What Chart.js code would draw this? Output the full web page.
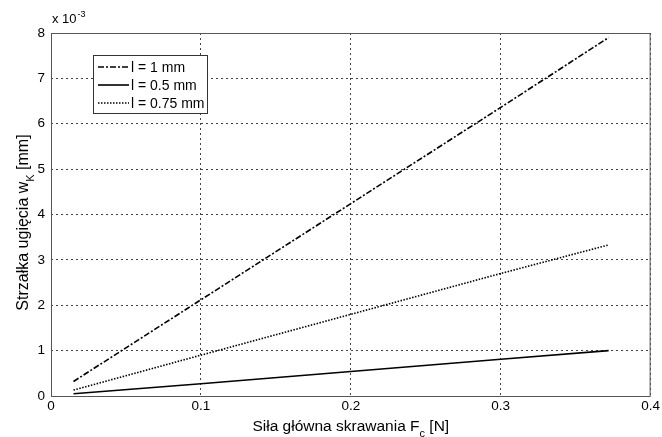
<!DOCTYPE html>
<html>
<head>
<meta charset="utf-8">
<script src="https://cdn.jsdelivr.net/npm/chart.js@4"></script>
<style>
  html, body { margin: 0; padding: 0; background: #fff; }
  #wrap { width: 662px; height: 437px; position: relative; }
</style>
</head>
<body>
<div id="wrap"><canvas id="chart"></canvas></div>
<script>
// force F_c [N] and deflection w_K [x 10^-3 mm]
const forceN   = [0.015, 0.1, 0.2, 0.3, 0.372];
const w1mm     = [0.32, 2.12, 4.24, 6.36, 7.90];
const w05mm    = [0.05, 0.27, 0.54, 0.81, 1.00];
const w075mm   = [0.13, 0.90, 1.80, 2.70, 3.33];
const seriesLabels = ['l = 1 mm', 'l = 0.5 mm', 'l = 0.75 mm'];
const xTicks = [0, 0.1, 0.2, 0.3, 0.4];
const yTicks = [0, 1, 2, 3, 4, 5, 6, 7, 8];

const FONT = '"Liberation Sans", Arial, sans-serif';
const pts = ys => forceN.map((x, i) => ({ x, y: ys[i] }));

// draws text made of normal / sub parts, centred on x
function richText(ctx, parts, x, y, size) {
  const fontOf = p => (p.small ? Math.round(size * 0.7) : size) + 'px ' + FONT;
  const widths = parts.map(p => { ctx.font = fontOf(p); return ctx.measureText(p.t).width; });
  let cx = x - widths.reduce((s, w) => s + w, 0) / 2;
  parts.forEach((p, i) => {
    ctx.font = fontOf(p);
    ctx.fillText(p.t, cx, y + (p.sub ? 6 : 0));
    cx += widths[i];
  });
}

const decor = {
  id: 'decor',
  afterDraw(chart) {
    const { ctx, chartArea: a } = chart;
    ctx.save();
    // box round the plot
    ctx.strokeStyle = '#555';
    ctx.lineWidth = 1;
    ctx.setLineDash([]);
    ctx.strokeRect(a.left + 0.5, a.top + 0.5, a.right - a.left - 1, a.bottom - a.top);

    // exponent label
    ctx.fillStyle = '#000';
    ctx.textBaseline = 'alphabetic';
    ctx.textAlign = 'left';
    ctx.font = '13px ' + FONT;
    ctx.fillText('x 10', a.left + 1, a.top - 10);
    const w = ctx.measureText('x 10').width;
    ctx.font = '9px ' + FONT;
    ctx.fillText('-3', a.left + 1 + w + 1, a.top - 16);

    // axis titles
    richText(ctx, [{ t: 'Siła główna skrawania F' }, { t: 'c', sub: true, small: true }, { t: ' [N]' }],
      (a.left + a.right) / 2, 431, 15.5);
    ctx.save();
    ctx.translate(28, (a.top + a.bottom) / 2 + 8);
    ctx.rotate(-Math.PI / 2);
    richText(ctx, [{ t: 'Strzałka ugięcia w' }, { t: 'K', sub: true, small: true }, { t: ' [mm]' }], 0, 0, 16);
    ctx.restore();

    // legend box
    const lx = 93, ly = 55, lw = 114, lh = 58;
    ctx.fillStyle = '#fff';
    ctx.fillRect(lx, ly, lw, lh);
    ctx.strokeStyle = '#333';
    ctx.strokeRect(lx + 0.5, ly + 0.5, lw, lh);
    chart.data.datasets.forEach((ds, i) => {
      const y = ly + 12 + i * 18;
      ctx.strokeStyle = ds.borderColor;
      ctx.lineWidth = ds.borderWidth;
      ctx.setLineDash(ds.borderDash || []);
      ctx.beginPath();
      ctx.moveTo(lx + 5, y);
      ctx.lineTo(lx + 36, y);
      ctx.stroke();
      ctx.setLineDash([]);
      ctx.fillStyle = '#000';
      ctx.font = '14px ' + FONT;
      ctx.textBaseline = 'middle';
      ctx.fillText(ds.label, lx + 38, y + 1);
    });
    ctx.restore();
  }
};

const lineSet = (label, ys, dash, width) => ({
  label, data: pts(ys), borderColor: '#000', backgroundColor: '#000',
  borderWidth: width, borderDash: dash, pointRadius: 0, tension: 0, fill: false
});

new Chart(document.getElementById('chart'), {
  type: 'line',
  data: {
    datasets: [
      lineSet(seriesLabels[0], w1mm, [6, 2, 2, 2], 1.6),
      lineSet(seriesLabels[1], w05mm, [], 1.6),
      lineSet(seriesLabels[2], w075mm, [1.5, 1.5], 1.6)
    ]
  },
  options: {
    responsive: true,
    maintainAspectRatio: false,
    animation: false,
    layout: { padding: { top: 33, right: 7, left: 0, bottom: 0 } },
    plugins: { legend: { display: false }, tooltip: { enabled: false } },
    scales: {
      x: {
        type: 'linear', min: 0, max: 0.4,
        afterBuildTicks: s => { s.ticks = xTicks.map(v => ({ value: v })); },
        afterFit: s => { s.height = 41; },
        ticks: { color: '#000', font: { family: FONT, size: 13.5 }, padding: 2,
          maxRotation: 0, callback: v => String(v) },
        grid: { color: '#444', drawTicks: false, lineWidth: 1 },
        border: { display: false, dash: [2, 3] }
      },
      y: {
        type: 'linear', min: 0, max: 8,
        afterBuildTicks: s => { s.ticks = yTicks.map(v => ({ value: v })); },
        afterFit: s => { s.width = 51; },
        ticks: { color: '#000', font: { family: FONT, size: 13.5 }, padding: 6,
          callback: v => String(v) },
        grid: { color: '#444', drawTicks: false, lineWidth: 1 },
        border: { display: false, dash: [2, 3] }
      }
    }
  },
  plugins: [decor]
});
</script>
</body>
</html>
